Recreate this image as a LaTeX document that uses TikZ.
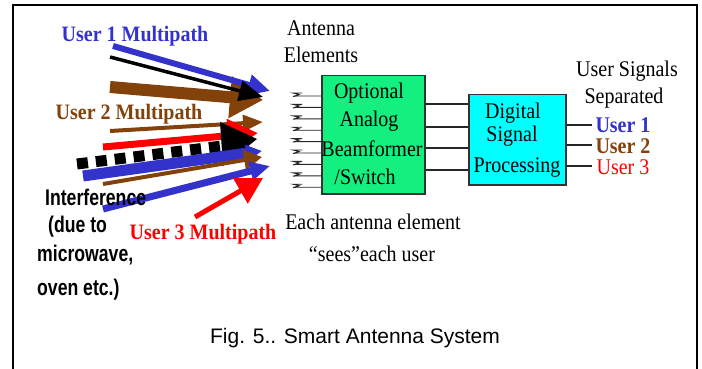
\documentclass[tikz,border=0pt]{standalone}
\usepackage{fontspec}
\setmainfont{Liberation Serif}
\newfontfamily\arialf{Liberation Sans}
\usetikzlibrary{arrows.meta}
\definecolor{ublue}{RGB}{51,51,204}
\definecolor{ubrown}{RGB}{130,66,10}
\definecolor{ured}{RGB}{255,0,0}
\definecolor{bgreen}{RGB}{20,240,128}
\definecolor{bcyan}{RGB}{0,255,255}
\begin{document}
\begin{tikzpicture}[x=1pt,y=-1pt,
  lbl/.style={font=\fontsize{20}{22}\selectfont, anchor=base, inner sep=0pt, yscale=1.12, transform shape},
  blbl/.style={font=\fontsize{20}{22}\selectfont\bfseries, anchor=base, inner sep=0pt, yscale=1.1, transform shape},
  ilbl/.style={font=\arialf\bfseries\fontsize{21}{24}\selectfont, anchor=base west, inner sep=0pt, xscale=0.84, yscale=1.08, transform shape},
  boxst/.style={draw=black!80, line width=1.5pt, inner sep=0pt, anchor=north west},
  wire/.style={draw=black!85, line width=1.4pt},
  ant/.style={draw=black!85, line width=0.9pt}]
\useasboundingbox (0,0) rectangle (702,369);
% frame
\draw[line width=2pt] (13,369) -- (13,5) -- (697,5) -- (697,369);

% incoming multipath arrows
\draw[ubrown, line width=12pt, -{Triangle[length=33pt,width=40pt]}] (110,87) -- (263,100);
\draw[ublue, line width=6pt, -{Triangle[length=22pt,width=20pt]}] (113,46) -- (270,91);
\draw[black, line width=3.5pt, -{Triangle[length=24pt,width=20pt]}] (110,57) -- (263,97);
\draw[ubrown, line width=4pt, -{Triangle[length=20pt,width=16pt]}] (110,131) -- (263,122);
\draw[ured, line width=7pt, -{Triangle[length=30pt,width=32pt]}] (103,147) -- (258,133);
\draw[black, line width=11pt, dash pattern=on 11pt off 8pt] (77,164) -- (222,146);
\fill[black] (220,122) -- (257,139) -- (223,166) -- cycle;
\draw[ublue, line width=11pt, -{Triangle[length=16pt,width=16pt]}] (83,176) -- (262,151);
\draw[ubrown, line width=4pt, -{Triangle[length=18pt,width=20pt]}] (103,184) -- (262,157);
\draw[ublue, line width=7pt, -{Triangle[length=20pt,width=18pt]}] (103,209) -- (270,166);
\draw[ured, line width=5pt, -{Triangle[length=26pt,width=28pt]}] (195,217) -- (263,178);

% left labels
\node[blbl, text=ublue] (m1) at (135,42) {User 1 Multipath};
\node[blbl, text=ubrown] (m2) at (129,119) {User 2 Multipath};
\node[blbl, text=ured] (m3) at (203,239) {User 3 Multipath};
\node[ilbl] (i1) at (45,205) {Interference};
\node[ilbl] (i2) at (48,232) {(due to};
\node[ilbl] (i3) at (37,261) {microwave,};
\node[ilbl] (i4) at (37,295) {oven etc.)};

% boxes
\node[boxst, fill=bgreen, minimum width=103pt, minimum height=118pt] (bf) at (321,75) {};
\node[boxst, fill=bcyan, minimum width=97pt, minimum height=90pt] (dsp) at (468,94) {};

% antenna elements
\foreach \i in {0,...,8}{
  \pgfmathsetmacro{\yy}{96+\i*11.4}
  \draw[ant] (302,\yy-3) -- (293,\yy-3) -- (299,\yy-1.5) -- (293,\yy+0.5) -- (297,\yy) -- (bf.west |- 0,\yy);
}

% box-to-box wires
\foreach \yy in {104,127,148,170}{
  \draw[wire] (bf.east |- 0,\yy) -- (dsp.west |- 0,\yy);
}

% texts
\node[lbl] (t1) at (321,36) {Antenna};
\node[lbl] (t2) at (321,63) {Elements};
\node[lbl] (b1) at (369,99) {Optional};
\node[lbl] (b2) at (369,127) {Analog};
\node[lbl] (b3) at (372,157) {Beamformer};
\node[lbl] (b4) at (365,184) {/Switch};
\node[lbl] (e1) at (373,229) {Each antenna element};
\node[lbl] (e2) at (372,261) {``sees''each user};
\node[lbl] (d1) at (513,118) {Digital};
\node[lbl] (d2) at (512,142) {Signal};
\node[lbl] (d3) at (517,172) {Processing};
\node[lbl] (s1) at (627,77) {User Signals};
\node[lbl] (s2) at (624,103) {Separated};
\node[lbl, font=\fontsize{20}{22}\selectfont\bfseries, text=ublue] (u1) at (623,132) {User 1};
\node[lbl, font=\fontsize{20}{22}\selectfont\bfseries, text=ubrown] (u2) at (623,153) {User 2};
\node[lbl, text=ured] (u3) at (623,174) {User 3};

% outputs
\coordinate (o1) at (592,125);
\coordinate (o2) at (592,145);
\coordinate (o3) at (592,166);
\draw[wire] (dsp.east |- o1) -- (o1);
\draw[wire] (dsp.east |- o2) -- (o2);
\draw[wire] (dsp.east |- o3) -- (o3);

% caption
\node[font=\arialf\fontsize{21}{24}\selectfont, anchor=base, inner sep=0pt] (cap) at (355,343) {Fig. 5.. Smart Antenna System};
\end{tikzpicture}
\end{document}
